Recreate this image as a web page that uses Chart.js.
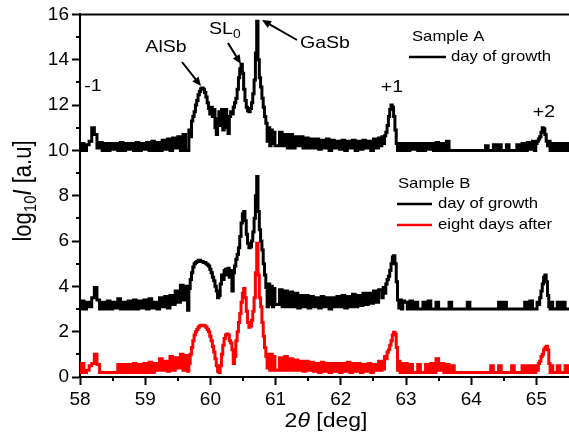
<!DOCTYPE html>
<html>
<head>
<meta charset="utf-8">
<script src="https://cdn.jsdelivr.net/npm/chart.js@4.4.1/dist/chart.umd.min.js"></script>
<style>
  html, body { margin: 0; padding: 0; background: #fff; }
  #wrap { width: 569px; height: 448px; }
</style>
</head>
<body>
<div id="wrap"><canvas id="xrd" width="569" height="448"></canvas></div>
<script>
// 2theta sampling (deg), finer around the peaks
const twoTheta = [
  58.00, 58.04, 58.08, 58.12, 58.16, 58.20, 58.24, 58.28, 58.32, 58.36,
  58.40, 58.44, 58.48, 58.52, 58.56, 58.60, 58.64, 58.68, 58.72, 58.76,
  58.80, 58.84, 58.88, 58.92, 58.96, 59.00, 59.04, 59.08, 59.12, 59.16,
  59.20, 59.24, 59.28, 59.32, 59.36, 59.40, 59.44, 59.48, 59.52, 59.56,
  59.60, 59.64,
  59.66, 59.68, 59.70, 59.72, 59.74, 59.76, 59.78, 59.80, 59.82, 59.84,
  59.86, 59.88, 59.90, 59.92, 59.94, 59.96, 59.98, 60.00, 60.02, 60.04,
  60.06, 60.08, 60.10, 60.12, 60.14, 60.16, 60.18, 60.20, 60.22, 60.24,
  60.26, 60.28, 60.30, 60.32, 60.34, 60.36, 60.38, 60.40, 60.42, 60.44,
  60.46, 60.48, 60.50, 60.52, 60.54, 60.56, 60.58, 60.60, 60.62, 60.64,
  60.66, 60.68, 60.70, 60.72, 60.74, 60.76, 60.78, 60.80, 60.82, 60.84,
  60.86, 60.88, 60.90, 60.92, 60.94, 60.96, 60.98, 61.00,
  61.04, 61.08, 61.12, 61.16, 61.20, 61.24, 61.28, 61.32, 61.36, 61.40,
  61.44, 61.48, 61.52, 61.56, 61.60, 61.64, 61.68, 61.72, 61.76, 61.80,
  61.84, 61.88, 61.92, 61.96, 62.00, 62.04, 62.08, 62.12, 62.16, 62.20,
  62.24, 62.28, 62.32, 62.36, 62.40, 62.44, 62.48, 62.52, 62.56, 62.60,
  62.62, 62.64, 62.66, 62.68, 62.70, 62.72, 62.74, 62.76, 62.78, 62.80,
  62.82, 62.84, 62.86, 62.88, 62.90, 62.92, 62.94, 62.96,
  63.00, 63.04, 63.08, 63.12, 63.16, 63.20, 63.24, 63.28, 63.32, 63.36,
  63.40, 63.44, 63.48, 63.52, 63.56, 63.60, 63.64, 63.68, 63.72, 63.76,
  63.80, 63.84, 63.88, 63.92, 63.96, 64.00, 64.04, 64.08, 64.12, 64.16,
  64.20, 64.24, 64.28, 64.32, 64.36, 64.40, 64.44, 64.48, 64.52, 64.56,
  64.60, 64.64, 64.68, 64.72, 64.76, 64.80, 64.84, 64.88, 64.92, 64.96,
  64.98, 65.00, 65.02, 65.04, 65.06, 65.08, 65.10, 65.12, 65.14, 65.16,
  65.18, 65.20, 65.22, 65.24, 65.26,
  65.30, 65.34, 65.38, 65.42, 65.46, 65.50
];

// Sample A, day of growth (offset +10)
const sampleA = [
  10.0, 10.3, 10.0, 10.25, 10.4, 11.0, 10.7, 10.1, 10.35, 10.0,
  10.3, 10.0, 10.3, 10.05, 10.3, 10.0, 10.35, 10.0, 10.3, 10.05,
  10.3, 10.0, 10.35, 10.0, 10.3, 10.05, 10.35, 10.0, 10.4, 10.0,
  10.35, 10.0, 10.45, 10.05, 10.5, 10.0, 10.55, 10.1, 10.6, 10.0,
  10.7, 10.0,
  10.0, 10.9, 10.6, 11.3, 11.5, 11.7, 12.0, 12.2, 12.45, 12.6,
  12.72, 12.75, 12.7, 12.55, 12.35, 12.1, 11.85, 11.6, 11.9, 11.5,
  11.8, 11.0, 10.7, 11.4, 11.7, 11.1, 11.8, 10.9, 11.6, 11.8,
  11.0, 10.75, 11.5, 11.7, 11.6, 11.9, 12.1, 12.3, 12.7, 13.2,
  13.6, 13.8, 13.4, 12.7, 12.2, 11.9, 11.75, 11.7, 11.85, 12.1,
  12.5, 13.1, 14.3, 15.7, 14.0, 13.2, 12.8, 12.3, 11.9, 11.5,
  11.2, 10.4, 11.0, 10.2, 10.9, 10.3, 10.8, 10.2,
  10.2, 10.8, 10.2, 10.7, 10.1, 10.7, 10.1, 10.6, 10.2, 10.6,
  10.1, 10.55, 10.1, 10.5, 10.1, 10.5, 10.05, 10.45, 10.1, 10.5,
  10.0, 10.45, 10.1, 10.4, 10.05, 10.45, 10.0, 10.4, 10.1, 10.45,
  10.0, 10.4, 10.05, 10.45, 10.1, 10.4, 10.0, 10.5, 10.1, 10.55,
  10.2, 10.6, 10.3, 10.65, 10.8, 11.1, 11.5, 11.8, 12.0, 11.9,
  11.5, 10.9, 10.3, 10.0, 10.3, 10.0, 10.3, 10.0,
  10.3, 10.0, 10.3, 10.05, 10.3, 10.0, 10.3, 10.0, 10.3, 10.05,
  10.3, 10.0, 10.35, 10.0, 10.3, 10.0, 10.4, 10.0, 10.0, 10.0,
  10.0, 10.0, 10.0, 10.0, 10.0, 10.0, 10.0, 10.0, 10.0, 10.0,
  10.0, 10.2, 10.0, 10.0, 10.25, 10.0, 10.25, 10.0, 10.0, 10.25,
  10.0, 10.0, 10.0, 10.25, 10.0, 10.3, 10.0, 10.35, 10.05, 10.4,
  10.0, 10.3, 10.4, 10.5, 10.6, 10.8, 11.0, 10.95, 10.7, 10.4,
  10.2, 10.4, 10.0, 10.3, 10.0,
  10.3, 10.0, 10.3, 10.0, 10.3, 10.0
];

// Sample B, day of growth (offset +3)
const sampleBDay = [
  3.0, 3.35, 3.0, 3.3, 3.1, 3.5, 3.95, 3.4, 3.0, 3.3,
  3.0, 3.35, 3.0, 3.3, 3.05, 3.45, 3.0, 3.3, 3.0, 3.35,
  3.0, 3.4, 3.0, 3.35, 3.05, 3.4, 3.0, 3.45, 3.05, 3.3,
  3.0, 3.5, 3.1, 3.55, 3.05, 3.6, 3.2, 3.8, 3.3, 4.05,
  3.4, 4.0,
  2.95, 3.9, 4.3, 4.6, 4.85, 5.0, 5.05, 5.1, 5.15, 5.15,
  5.1, 5.1, 5.05, 5.05, 5.0, 4.95, 4.9, 4.75, 4.6, 4.4,
  4.25, 4.0, 3.8, 3.5, 3.6, 4.1, 4.5, 4.3, 4.7, 4.75,
  4.5, 4.8, 4.4, 4.7, 3.8, 4.6, 4.9, 5.2, 5.4, 5.7,
  6.2, 6.8, 7.2, 7.3, 6.9, 6.3, 5.9, 5.7, 5.75, 6.0,
  6.4, 7.0, 8.0, 8.85, 7.3, 6.5, 6.0, 5.6, 5.0, 4.5,
  3.95, 3.1, 4.1, 3.2, 4.0, 3.1, 3.9, 3.2,
  3.2, 3.85, 3.1, 3.8, 3.1, 3.75, 3.1, 3.7, 3.05, 3.6,
  3.1, 3.6, 3.05, 3.55, 3.1, 3.5, 3.05, 3.55, 3.1, 3.5,
  3.0, 3.5, 3.1, 3.55, 3.1, 3.6, 3.05, 3.55, 3.1, 3.65,
  3.1, 3.6, 3.15, 3.7, 3.2, 3.7, 3.25, 3.8, 3.3, 3.85,
  3.85, 3.5, 3.95, 3.7, 4.1, 4.3, 4.45, 4.7, 5.0, 5.3,
  5.35, 5.0, 4.2, 3.4, 3.05, 3.4, 3.0, 3.35,
  3.3, 3.0, 3.35, 3.0, 3.3, 3.0, 3.0, 3.3, 3.0, 3.35,
  3.0, 3.0, 3.3, 3.0, 3.0, 3.0, 3.0, 3.3, 3.0, 3.0,
  3.0, 3.0, 3.0, 3.0, 3.3, 3.0, 3.0, 3.0, 3.0, 3.0,
  3.0, 3.0, 3.0, 3.0, 3.0, 3.0, 3.3, 3.0, 3.3, 3.0,
  3.0, 3.0, 3.0, 3.0, 3.0, 3.0, 3.3, 3.0, 3.35, 3.0,
  3.0, 3.0, 3.3, 3.2, 3.5, 3.8, 4.1, 4.4, 4.5, 4.2,
  3.6, 3.1, 3.0, 3.3, 3.0,
  3.0, 3.3, 3.0, 3.3, 3.0, 3.0
];

// Sample B, eight days after
const sampleBEight = [
  0.2, 0.6, 0.2, 0.3, 0.5, 0.6, 1.0, 0.55, 0.2, 0.2,
  0.2, 0.2, 0.2, 0.2, 0.2, 0.55, 0.2, 0.55, 0.2, 0.55,
  0.2, 0.6, 0.2, 0.55, 0.2, 0.6, 0.2, 0.65, 0.2, 0.6,
  0.3, 0.8, 0.3, 0.7, 0.25, 0.9, 0.3, 0.85, 0.4, 1.0,
  0.3, 0.95,
  0.25, 0.6, 1.0, 1.3, 1.6, 1.85, 2.0, 2.1, 2.2, 2.25,
  2.28, 2.28, 2.27, 2.25, 2.2, 2.1, 2.0, 1.8, 1.6, 1.35,
  1.1, 0.8, 0.5, 0.25, 0.2, 0.5, 1.0, 1.4, 1.7, 1.85,
  1.9, 1.85, 1.6, 1.5, 1.2, 0.6, 0.9, 1.6, 2.0, 2.4,
  2.8, 3.3, 3.7, 3.9, 3.5, 2.9, 2.4, 2.2, 2.25, 2.5,
  2.9, 3.5, 4.6, 5.9, 4.5, 3.5, 3.1, 2.4, 1.8, 1.3,
  0.9, 0.4, 1.0, 0.3, 1.0, 0.3, 0.9, 0.3,
  0.3, 0.85, 0.3, 0.9, 0.3, 0.8, 0.3, 0.75, 0.3, 0.7,
  0.25, 0.7, 0.3, 0.65, 0.25, 0.6, 0.2, 0.65, 0.25, 0.6,
  0.2, 0.6, 0.25, 0.6, 0.2, 0.6, 0.25, 0.65, 0.2, 0.6,
  0.25, 0.6, 0.2, 0.55, 0.25, 0.6, 0.2, 0.55, 0.3, 0.7,
  0.3, 0.7, 0.35, 0.9, 0.8, 1.1, 1.2, 1.4, 1.6, 1.85,
  1.97, 1.9, 1.3, 0.3, 0.7, 0.2, 0.6, 0.2,
  0.6, 0.2, 0.55, 0.2, 0.2, 0.55, 0.2, 0.2, 0.55, 0.2,
  0.6, 0.2, 0.8, 0.3, 0.6, 0.2, 0.55, 0.2, 0.5, 0.2,
  0.2, 0.2, 0.2, 0.2, 0.2, 0.2, 0.2, 0.2, 0.2, 0.2,
  0.2, 0.2, 0.2, 0.5, 0.2, 0.2, 0.5, 0.2, 0.2, 0.2,
  0.2, 0.5, 0.2, 0.2, 0.2, 0.5, 0.2, 0.5, 0.2, 0.5,
  0.2, 0.5, 0.3, 0.6, 0.7, 0.9, 1.0, 1.2, 1.3, 1.36,
  1.2, 0.6, 0.2, 0.5, 0.2,
  0.2, 0.5, 0.2, 0.2, 0.5, 0.2
];

const xTicks = [58, 59, 60, 61, 62, 63, 64, 65];
const xMinor = [58.5, 59.5, 60.5, 61.5, 62.5, 63.5, 64.5];
const yTicks = [0, 2, 4, 6, 8, 10, 12, 14, 16];
const yMinor = [1, 3, 5, 7, 9, 11, 13, 15];

const FONT = '"Liberation Sans", Arial, sans-serif';
const SX = 1.15; // the original lettering is a bit wide

function runsWidth(ctx, runs) {
  let w = 0;
  runs.forEach(r => { ctx.font = r.font; w += ctx.measureText(r.t).width; });
  return w;
}
function drawRuns(ctx, runs, x, y, align, rotate) {
  ctx.save();
  ctx.translate(x, y);
  ctx.scale(SX, 1);
  if (rotate) ctx.rotate(-Math.PI / 2);
  ctx.textBaseline = 'middle';
  ctx.textAlign = 'left';
  ctx.fillStyle = '#000';
  let cx = align === 'center' ? -runsWidth(ctx, runs) / 2 : 0;
  runs.forEach(r => {
    ctx.font = r.font;
    ctx.fillText(r.t, cx, r.dy || 0);
    cx += ctx.measureText(r.t).width;
  });
  ctx.restore();
}
function arrow(ctx, x1, y1, x2, y2) {
  const a = Math.atan2(y2 - y1, x2 - x1);
  const L = 9, W = 4;
  ctx.beginPath();
  ctx.moveTo(x1, y1);
  ctx.lineTo(x2 - L * 0.7 * Math.cos(a), y2 - L * 0.7 * Math.sin(a));
  ctx.stroke();
  ctx.beginPath();
  ctx.moveTo(x2, y2);
  ctx.lineTo(x2 - L * Math.cos(a) + W * Math.sin(a), y2 - L * Math.sin(a) - W * Math.cos(a));
  ctx.lineTo(x2 - L * Math.cos(a) - W * Math.sin(a), y2 - L * Math.sin(a) + W * Math.cos(a));
  ctx.closePath();
  ctx.fill();
}

const decorations = {
  id: 'decorations',
  afterDraw(chart) {
    const ctx = chart.ctx;
    const { left, right, top, bottom } = chart.chartArea;
    const xs = chart.scales.x, ys = chart.scales.y;
    ctx.save();
    ctx.strokeStyle = '#000';
    ctx.fillStyle = '#000';

    // top frame
    ctx.lineWidth = 2;
    ctx.beginPath(); ctx.moveTo(left - 1, top); ctx.lineTo(right, top); ctx.stroke();

    // minor ticks
    xMinor.forEach(v => {
      const px = Math.round(xs.getPixelForValue(v));
      ctx.beginPath(); ctx.moveTo(px, bottom); ctx.lineTo(px, bottom + 4); ctx.stroke();
    });
    yMinor.forEach(v => {
      const py = Math.round(ys.getPixelForValue(v));
      ctx.beginPath(); ctx.moveTo(left, py); ctx.lineTo(left - 4, py); ctx.stroke();
    });

    // peak labels
    const f17 = '17px ' + FONT;
    drawRuns(ctx, [{ t: '-1', font: f17 }], 93, 86, 'center');
    drawRuns(ctx, [{ t: 'AlSb', font: f17 }], 166, 47, 'center');
    drawRuns(ctx, [{ t: 'SL', font: f17 }, { t: '0', font: '12px ' + FONT, dy: 6 }], 209, 29, 'left');
    drawRuns(ctx, [{ t: 'GaSb', font: f17 }], 325, 43, 'center');
    drawRuns(ctx, [{ t: '+1', font: f17 }], 392, 87, 'center');
    drawRuns(ctx, [{ t: '+2', font: f17 }], 544, 112, 'center');

    ctx.lineWidth = 2;
    arrow(ctx, 182, 62, 201, 86);
    arrow(ctx, 228, 43, 241, 64);
    arrow(ctx, 297, 40, 262, 20);

    // legends
    const f15 = '14.5px ' + FONT;
    drawRuns(ctx, [{ t: 'Sample A', font: f15 }], 412, 37, 'left');
    ctx.lineWidth = 2.5;
    ctx.strokeStyle = '#000';
    ctx.beginPath(); ctx.moveTo(409, 57); ctx.lineTo(446, 57); ctx.stroke();
    drawRuns(ctx, [{ t: 'day of growth', font: f15 }], 451, 57, 'left');

    drawRuns(ctx, [{ t: 'Sample B', font: f15 }], 398, 184, 'left');
    ctx.beginPath(); ctx.moveTo(397, 204); ctx.lineTo(432, 204); ctx.stroke();
    drawRuns(ctx, [{ t: 'day of growth', font: f15 }], 438, 204, 'left');
    ctx.strokeStyle = '#ff0000';
    ctx.beginPath(); ctx.moveTo(397, 225); ctx.lineTo(432, 225); ctx.stroke();
    drawRuns(ctx, [{ t: 'eight days after', font: f15 }], 438, 225, 'left');

    // axis titles
    drawRuns(ctx, [
      { t: '2', font: '20px ' + FONT },
      { t: 'θ', font: 'italic 20px ' + FONT },
      { t: ' [deg]', font: '20px ' + FONT }
    ], 326, 421, 'center');
    drawRuns(ctx, [
      { t: 'log', font: '22px ' + FONT },
      { t: '10', font: '15px ' + FONT, dy: 6 },
      { t: 'I', font: 'italic 22px ' + FONT },
      { t: ' [a.u]', font: '22px ' + FONT }
    ], 24, 191, 'center', true);

    ctx.restore();
  }
};

new Chart(document.getElementById('xrd'), {
  type: 'line',
  data: {
    labels: twoTheta,
    datasets: [
      { label: 'Sample A day of growth', data: sampleA, borderColor: '#000', borderWidth: 3, stepped: 'middle' },
      { label: 'Sample B day of growth', data: sampleBDay, borderColor: '#000', borderWidth: 3, stepped: 'middle' },
      { label: 'Sample B eight days after', data: sampleBEight, borderColor: '#ff0000', borderWidth: 3, stepped: 'middle' }
    ]
  },
  options: {
    responsive: false,
    animation: false,
    devicePixelRatio: 1,
    layout: { padding: { top: 12, right: 0, left: 0, bottom: 0 } },
    elements: { point: { radius: 0 }, line: { tension: 0 } },
    plugins: { legend: { display: false }, tooltip: { enabled: false } },
    scales: {
      x: {
        type: 'linear',
        min: 58,
        max: 65.5,
        afterBuildTicks: s => { s.ticks = xTicks.map(v => ({ value: v })); },
        afterFit: s => { s.height = 71; },
        ticks: { color: '#000', font: { family: FONT, size: 19 }, padding: 3, maxRotation: 0, autoSkip: false },
        grid: { display: true, drawOnChartArea: false, drawTicks: true, tickLength: 8, tickWidth: 2, tickColor: '#000' },
        border: { display: true, color: '#000', width: 2 }
      },
      y: {
        min: 0,
        max: 16,
        afterBuildTicks: s => { s.ticks = yTicks.map(v => ({ value: v })); },
        afterFit: s => { s.width = 80; },
        ticks: { color: '#000', font: { family: FONT, size: 19 }, padding: 3 },
        grid: { display: true, drawOnChartArea: false, drawTicks: true, tickLength: 8, tickWidth: 2, tickColor: '#000' },
        border: { display: true, color: '#000', width: 2 }
      }
    }
  },
  plugins: [decorations]
});
</script>
</body>
</html>
